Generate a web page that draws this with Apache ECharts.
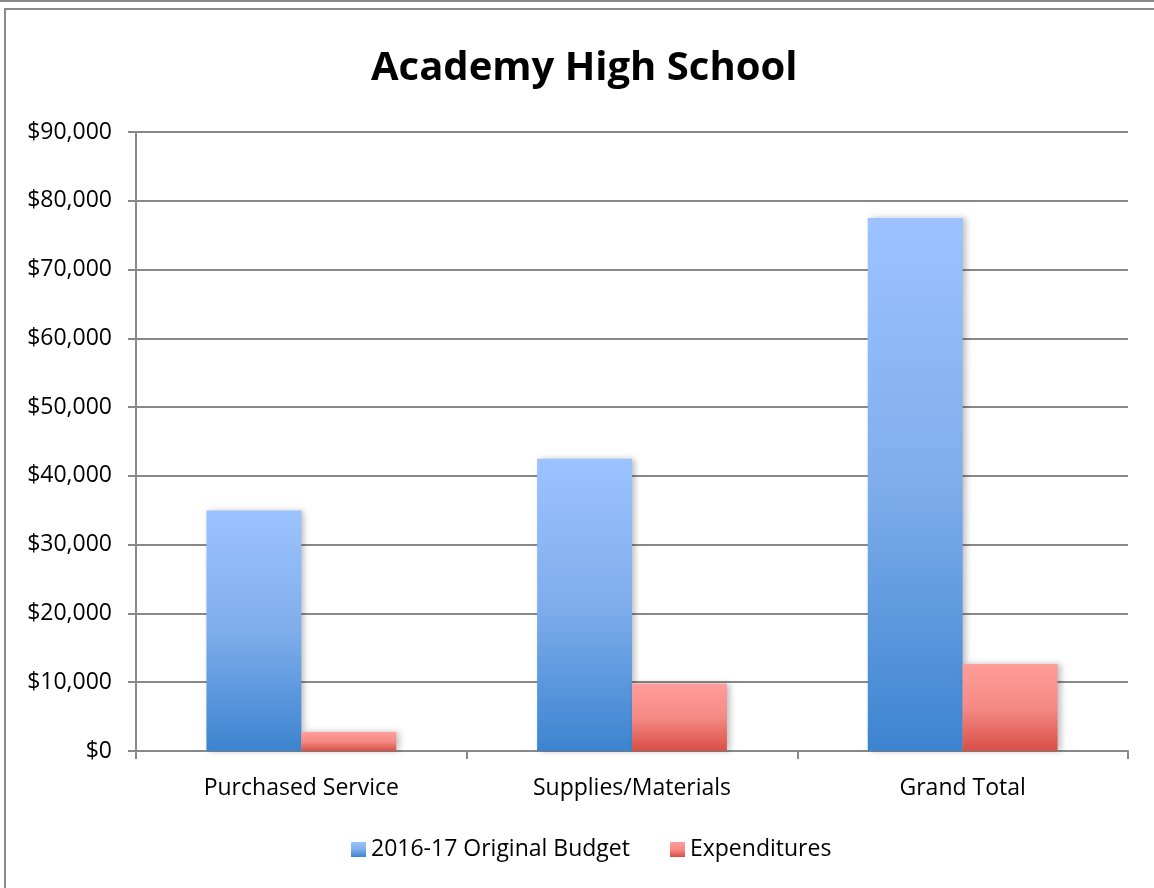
<!DOCTYPE html>
<html>
<head>
<meta charset="utf-8">
<script src="https://cdn.jsdelivr.net/npm/echarts@6/dist/echarts.min.js"></script>
<style>
  html, body { margin: 0; padding: 0; background: #fff; overflow: hidden; }
  #frame { position: absolute; left: 0; top: 0; width: 1154px; height: 888px; border-top: 2px solid #888; box-sizing: border-box; }
  #box { position: absolute; left: 4px; top: 8px; width: 1200px; height: 900px; border: 2px solid #8a8a8a; box-sizing: border-box; }
  #chart { position: absolute; left: 0; top: 0; width: 1154px; height: 888px; }
</style>
</head>
<body>
<div id="frame"></div>
<div id="box"></div>
<div id="chart"></div>
<script>
const categories = ['Purchased Service', 'Supplies/Materials', 'Grand Total'];
const budget = [34950, 42500, 77500];
const expenditures = [2750, 9800, 12650];
const seriesNames = ['2016-17 Original Budget', 'Expenditures'];

const chart = echarts.init(document.getElementById('chart'));

const blueFill = new echarts.graphic.LinearGradient(0, 0, 0, 1, [
  { offset: 0, color: '#9cc3ff' },
  { offset: 0.5, color: '#7fadec' },
  { offset: 1, color: '#3c84d0' }
]);
const redFill = new echarts.graphic.LinearGradient(0, 0, 0, 1, [
  { offset: 0, color: '#ff9d9a' },
  { offset: 0.5, color: '#f58a85' },
  { offset: 1, color: '#d84f46' }
]);

const option = {
  backgroundColor: 'transparent',
  animation: false,
  textStyle: { fontFamily: 'Open Sans' },
  title: {
    text: 'Academy High School',
    left: 366,
    top: 44,
    textStyle: { fontFamily: 'Open Sans', fontWeight: 'bold', fontSize: 40, color: '#000' }
  },
  legend: {
    bottom: 22,
    left: 346,
    itemWidth: 15,
    itemHeight: 15,
    itemGap: 40,
    icon: 'rect',
    textStyle: { fontSize: 23, color: '#000', fontFamily: 'Open Sans' },
    data: seriesNames
  },
  grid: { left: 136, right: 26, top: 132, bottom: 137, containLabel: false },
  xAxis: {
    type: 'category',
    data: categories,
    axisLine: { lineStyle: { color: '#888', width: 2 } },
    axisTick: { show: true, length: 8, lineStyle: { color: '#888', width: 2 } },
    axisLabel: { fontSize: 23, color: '#000', margin: 26 },
    splitLine: { show: false }
  },
  yAxis: {
    type: 'value',
    min: 0,
    max: 90000,
    interval: 10000,
    axisLine: { show: true, lineStyle: { color: '#888', width: 2 } },
    axisTick: { show: true, length: 8, lineStyle: { color: '#888', width: 2 } },
    axisLabel: {
      fontSize: 23,
      color: '#000',
      margin: 24,
      formatter: v => '$' + v.toLocaleString('en-US')
    },
    splitLine: { lineStyle: { color: '#888', width: 2 } }
  },
  series: [
    {
      name: seriesNames[0],
      type: 'bar',
      data: budget,
      barWidth: '28.7%',
      barGap: '0%',
      itemStyle: {
        color: blueFill,
        shadowColor: 'rgba(0,0,0,0.25)',
        shadowBlur: 6,
        shadowOffsetX: 3
      }
    },
    {
      name: seriesNames[1],
      type: 'bar',
      data: expenditures,
      barWidth: '28.7%',
      barGap: '0%',
      itemStyle: {
        color: redFill,
        shadowColor: 'rgba(0,0,0,0.25)',
        shadowBlur: 6,
        shadowOffsetX: 3
      }
    }
  ]
};

chart.setOption(option);
</script>
</body>
</html>
